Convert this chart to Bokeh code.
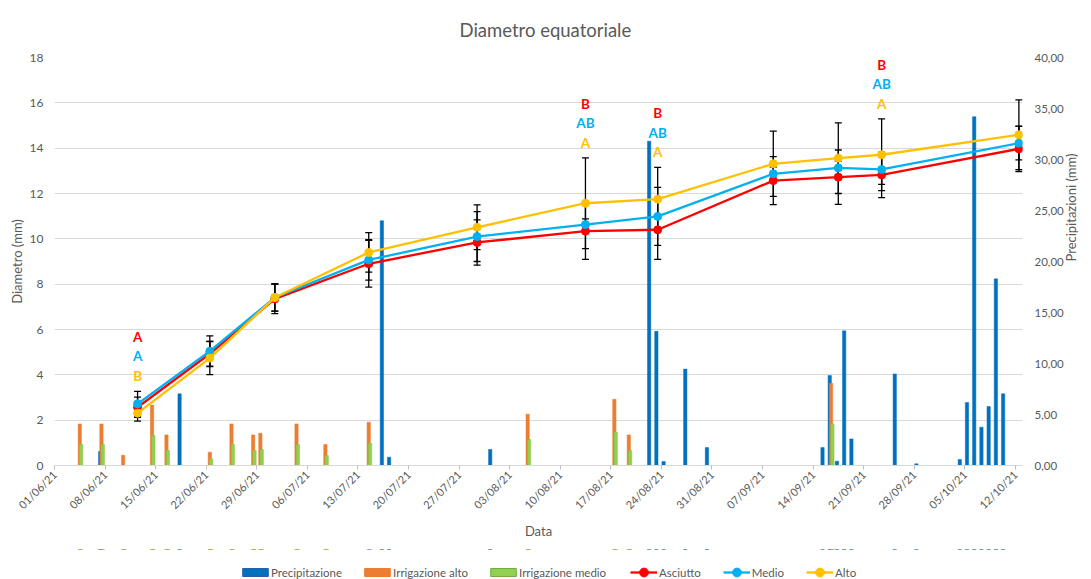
import math
import pandas as pd
from bokeh.plotting import figure
from bokeh.layouts import column
from bokeh.models import (ColumnDataSource, Range1d, LinearAxis, FixedTicker,
                          DatetimeTickFormatter, CustomJSTickFormatter, Whisker,
                          TeeHead, Legend, LegendItem)
from bokeh.core.properties import value
from bokeh.embed import file_html
from bokeh.resources import INLINE

# ---------------- data ----------------
x_tick_labels = ["01/06/21", "08/06/21", "15/06/21", "22/06/21", "29/06/21",
                 "06/07/21", "13/07/21", "20/07/21", "27/07/21", "03/08/21",
                 "10/08/21", "17/08/21", "24/08/21", "31/08/21", "07/09/21",
                 "14/09/21", "21/09/21", "28/09/21", "05/10/21", "12/10/21"]

measure_dates = ["12/06/21", "22/06/21", "01/07/21", "14/07/21", "29/07/21",
                 "13/08/21", "23/08/21", "08/09/21", "17/09/21", "23/09/21",
                 "12/10/21"]
asciutto = [2.57, 4.93, 7.35, 8.90, 9.84, 10.34, 10.40, 12.57, 12.72, 12.82, 13.97]
medio = [2.72, 5.04, 7.41, 9.07, 10.10, 10.63, 10.99, 12.87, 13.13, 13.06, 14.22]
alto = [2.31, 4.74, 7.41, 9.40, 10.51, 11.57, 11.75, 13.31, 13.56, 13.71, 14.59]
err_asciutto = [0.45, 0.55, 0.65, 1.03, 1.00, 1.25, 1.31, 1.06, 1.20, 1.00, 1.00]
err_medio = [0.55, 0.68, 0.60, 0.89, 1.10, 0.25, 1.28, 0.30, 0.30, 0.66, 0.74]
err_alto = [0.35, 0.73, 0.60, 0.87, 0.99, 2.00, 1.40, 1.44, 1.56, 1.58, 1.54]

sig_index = [0, 5, 6, 9]
sig_asciutto = ["A", "B", "B", "B"]
sig_medio = ["A", "AB", "AB", "AB"]
sig_alto = ["B", "A", "A", "A"]

precip_dates = ["07/06/21", "18/06/21", "16/07/21", "17/07/21", "31/07/21",
                "22/08/21", "23/08/21", "24/08/21", "27/08/21", "30/08/21",
                "15/09/21", "16/09/21", "17/09/21", "18/09/21", "19/09/21",
                "25/09/21", "28/09/21", "04/10/21", "05/10/21", "06/10/21",
                "07/10/21", "08/10/21", "09/10/21", "10/10/21"]
precip_mm = [1.37, 7.03, 24.0, 0.82, 1.57,
             31.8, 13.15, 0.39, 9.45, 1.76,
             1.76, 8.82, 0.42, 13.2, 2.61,
             8.98, 0.16, 0.59, 6.18, 34.2,
             3.76, 5.78, 18.3, 7.03]

irr_dates = ["04/06/21", "07/06/21", "10/06/21", "14/06/21", "16/06/21",
             "22/06/21", "25/06/21", "28/06/21", "29/06/21", "04/07/21",
             "08/07/21", "14/07/21", "05/08/21", "17/08/21", "19/08/21",
             "16/09/21"]
irr_alto = [4.08, 4.08, 1.01, 5.92, 3.00, 1.31, 4.08, 3.00, 3.17, 4.08,
            2.06, 4.25, 5.03, 6.50, 3.00, 8.07]
irr_medio = [2.06, 2.06, 0.0, 2.94, 1.47, 0.65, 2.06, 1.47, 1.57, 2.06,
             0.98, 2.19, 2.55, 3.27, 1.47, 4.05]

bar_labels = ["Precipitazione", "Irrigazione alto", "Irrigazione medio"]
line_labels = ["Asciutto", "Medio", "Alto"]

# ---------------- helpers ----------------
FMT = "%d/%m/%y"
DAY = pd.Timedelta(days=1)
DAY_MS = 86400000.0


def to_dt(lst):
    return pd.to_datetime(lst, format=FMT)


GREY = "#595959"
FONT = "Lato"
C_RED, C_BLUE, C_YEL = "#FF0000", "#00B0F0", "#FFC000"
C_PREC, C_IRA, C_IRM = "#0070C0", "#ED7D31", "#92D050"
E_PREC, E_IRA, E_IRM = "#0070C0", "#ED7D31", "#7FC040"

tick_dt = to_dt(x_tick_labels)
tick_ms = [float(t.value) / 1e6 for t in tick_dt]
x_start = tick_dt[0]
x_end = tick_dt[-1] + DAY

p = figure(width=1091, height=549, x_axis_type="datetime",
           x_range=Range1d(x_start, x_end), y_range=Range1d(0, 18),
           output_backend="svg", toolbar_location=None,
           min_border_left=54, min_border_right=69,
           min_border_top=57, min_border_bottom=84)
p.outline_line_color = None
p.background_fill_color = "white"
p.border_fill_color = "white"

# title
p.title.text = "Diametro equatoriale"
p.title.text_font = FONT
p.title.text_font_size = "18.5px"
p.title.text_font_style = "normal"
p.title.text_color = GREY
p.title.align = "left"
p.title.offset = 405
p.title.vertical_align = "middle"
p.title.standoff = 32

# axes
p.extra_y_ranges = {"precip": Range1d(0, 40)}

xa = p.xaxis[0]
xa.ticker = FixedTicker(ticks=tick_ms)
xa.formatter = DatetimeTickFormatter(days=FMT, months=FMT, years=FMT,
                                     hours=FMT, hourmin=FMT, minutes=FMT)
xa.major_label_orientation = math.pi / 4
xa.axis_label = "Data"
xa.axis_line_color = "#D9D9D9"
xa.major_tick_line_color = "#BFBFBF"
xa.major_tick_in = 0
xa.major_tick_out = 4
xa.minor_tick_line_color = None
xa.minor_tick_out = 0
xa.major_label_standoff = 3
xa.axis_label_standoff = 4

ya = p.yaxis[0]
ya.ticker = FixedTicker(ticks=list(range(0, 19, 2)))
ya.axis_label = "Diametro (mm)"
ya.major_label_standoff = 11
ya.axis_label_standoff = 2

ra = LinearAxis(y_range_name="precip", axis_label="Precipitazioni (mm)",
                ticker=FixedTicker(ticks=list(range(0, 41, 5))),
                formatter=CustomJSTickFormatter(code="return tick.toFixed(2).replace('.', ',');"))
ra.major_label_standoff = 12
ra.axis_label_standoff = 4
ra.axis_label_orientation = math.pi / 2
p.add_layout(ra, "right")

for ax in (ya, ra):
    ax.axis_line_color = None
    ax.major_tick_line_color = None
    ax.minor_tick_line_color = None
    ax.major_tick_out = 0
    ax.major_tick_in = 0
    ax.minor_tick_out = 0
    ax.minor_tick_in = 0

for ax in (xa, ya, ra):
    ax.major_label_text_font = FONT
    ax.major_label_text_color = GREY
    ax.axis_label_text_font = FONT
    ax.axis_label_text_font_size = "13px"
    ax.axis_label_text_font_style = "normal"
    ax.axis_label_text_color = GREY
xa.major_label_text_font_size = "11px"
ya.major_label_text_font_size = "12px"
ra.major_label_text_font_size = "11.5px"

p.xgrid.grid_line_color = None
p.ygrid.grid_line_color = "#D9D9D9"
p.ygrid.grid_line_width = 1

# ---------------- bars ----------------
bar_w = 0.46 * DAY_MS
prec_src = ColumnDataSource(dict(x=to_dt(precip_dates) + 0.316 * DAY, top=precip_mm))
irr_src_a = ColumnDataSource(dict(x=to_dt(irr_dates) + 0.5 * DAY, top=irr_alto))
irr_src_m = ColumnDataSource(dict(x=to_dt(irr_dates) + 0.684 * DAY, top=irr_medio))
bar_specs = [(prec_src, C_PREC, E_PREC), (irr_src_a, C_IRA, E_IRA), (irr_src_m, C_IRM, E_IRM)]

for src, fc, lc_ in bar_specs:
    p.vbar(x="x", top="top", bottom=0, width=bar_w, source=src,
           y_range_name="precip", fill_color=fc, line_color=lc_, line_width=0.5)

# ---------------- lines, error bars ----------------
mx = to_dt(measure_dates) + 0.5 * DAY
series = [("Asciutto", asciutto, err_asciutto, C_RED),
          ("Medio", medio, err_medio, C_BLUE),
          ("Alto", alto, err_alto, C_YEL)]

for name, vals, errs, col in series:
    src = ColumnDataSource(dict(x=mx, upper=[v + e for v, e in zip(vals, errs)],
                                lower=[v - e for v, e in zip(vals, errs)]))
    w = Whisker(source=src, base="x", upper="upper", lower="lower",
                line_color="black", line_width=1.3,
                upper_head=TeeHead(size=7, line_color="black", line_width=1.3),
                lower_head=TeeHead(size=7, line_color="black", line_width=1.3))
    w.level = "underlay"
    p.add_layout(w)

line_srcs = []
for name, vals, errs, col in series:
    src = ColumnDataSource(dict(x=mx, y=vals))
    line_srcs.append((src, col))
    p.line("x", "y", source=src, line_color=col, line_width=2.3)
    p.scatter("x", "y", source=src, size=8, fill_color=col, line_color=col)

# ---------------- significance letters ----------------
lx, ly, lt, lc = [], [], [], []
for k, i in enumerate(sig_index):
    top = max(asciutto[i] + err_asciutto[i], medio[i] + err_medio[i], alto[i] + err_alto[i]) + 2.4
    for j, (letters, col) in enumerate(((sig_asciutto, C_RED), (sig_medio, C_BLUE), (sig_alto, C_YEL))):
        lx.append(mx[i])
        ly.append(top - 0.86 * j)
        lt.append(letters[k])
        lc.append(col)
let_src = ColumnDataSource(dict(x=lx, y=ly, text=lt, color=lc))
p.text(x="x", y="y", text="text", text_color="color", source=let_src,
       text_font=value(FONT), text_font_style="bold", text_font_size="13.5px",
       text_align="center", text_baseline="middle")

# ---------------- legend strip (below the chart) ----------------
# the same sources are re-used; the strip shares the date span but its y range
# lies far below the data, so only the legend glyphs are visible
lg = figure(width=1091, height=30, output_backend="svg", toolbar_location=None,
            x_axis_type="datetime",
            x_range=Range1d(x_start, x_end), y_range=Range1d(-100, -99),
            x_axis_location=None, y_axis_location=None,
            min_border_left=0, min_border_right=0, min_border_top=0, min_border_bottom=0)
lg.outline_line_color = None
lg.grid.visible = False

bar_glyphs = []
legend_edges = ["#2E5EA8", E_IRA, "#70AD47"]
for (src, fc, lc_), edge in zip(bar_specs, legend_edges):
    bar_glyphs.append([lg.vbar(x="x", top="top", bottom=0, width=bar_w, source=src,
                               fill_color=fc, line_color=edge)])
line_glyphs = []
for src, col in line_srcs:
    gl = lg.line("x", "y", source=src, line_color=col, line_width=2.3)
    gs = lg.scatter("x", "y", source=src, size=0, fill_color=col, line_color=col)
    line_glyphs.append([gl, gs])

common = dict(orientation="horizontal", padding=0, margin=0, border_line_color=None,
              background_fill_alpha=0, label_text_font=FONT, label_height=14,
              label_text_font_size="11.5px", label_text_color=GREY)
legend_bars = Legend(items=[LegendItem(label=lab, renderers=rs) for lab, rs in zip(bar_labels, bar_glyphs)],
                     location=(185, 0), glyph_width=32, glyph_height=10,
                     label_standoff=0, spacing=19, **common)
legend_lines = Legend(items=[LegendItem(label=lab, renderers=rs) for lab, rs in zip(line_labels, line_glyphs)],
                      location=(576, -4), glyph_width=27, glyph_height=22,
                      label_standoff=2, spacing=22, **common)
lg.add_layout(legend_bars)
lg.add_layout(legend_lines)

layout = column(p, lg, spacing=0)
open("out.html", "w").write(file_html(layout, INLINE))
